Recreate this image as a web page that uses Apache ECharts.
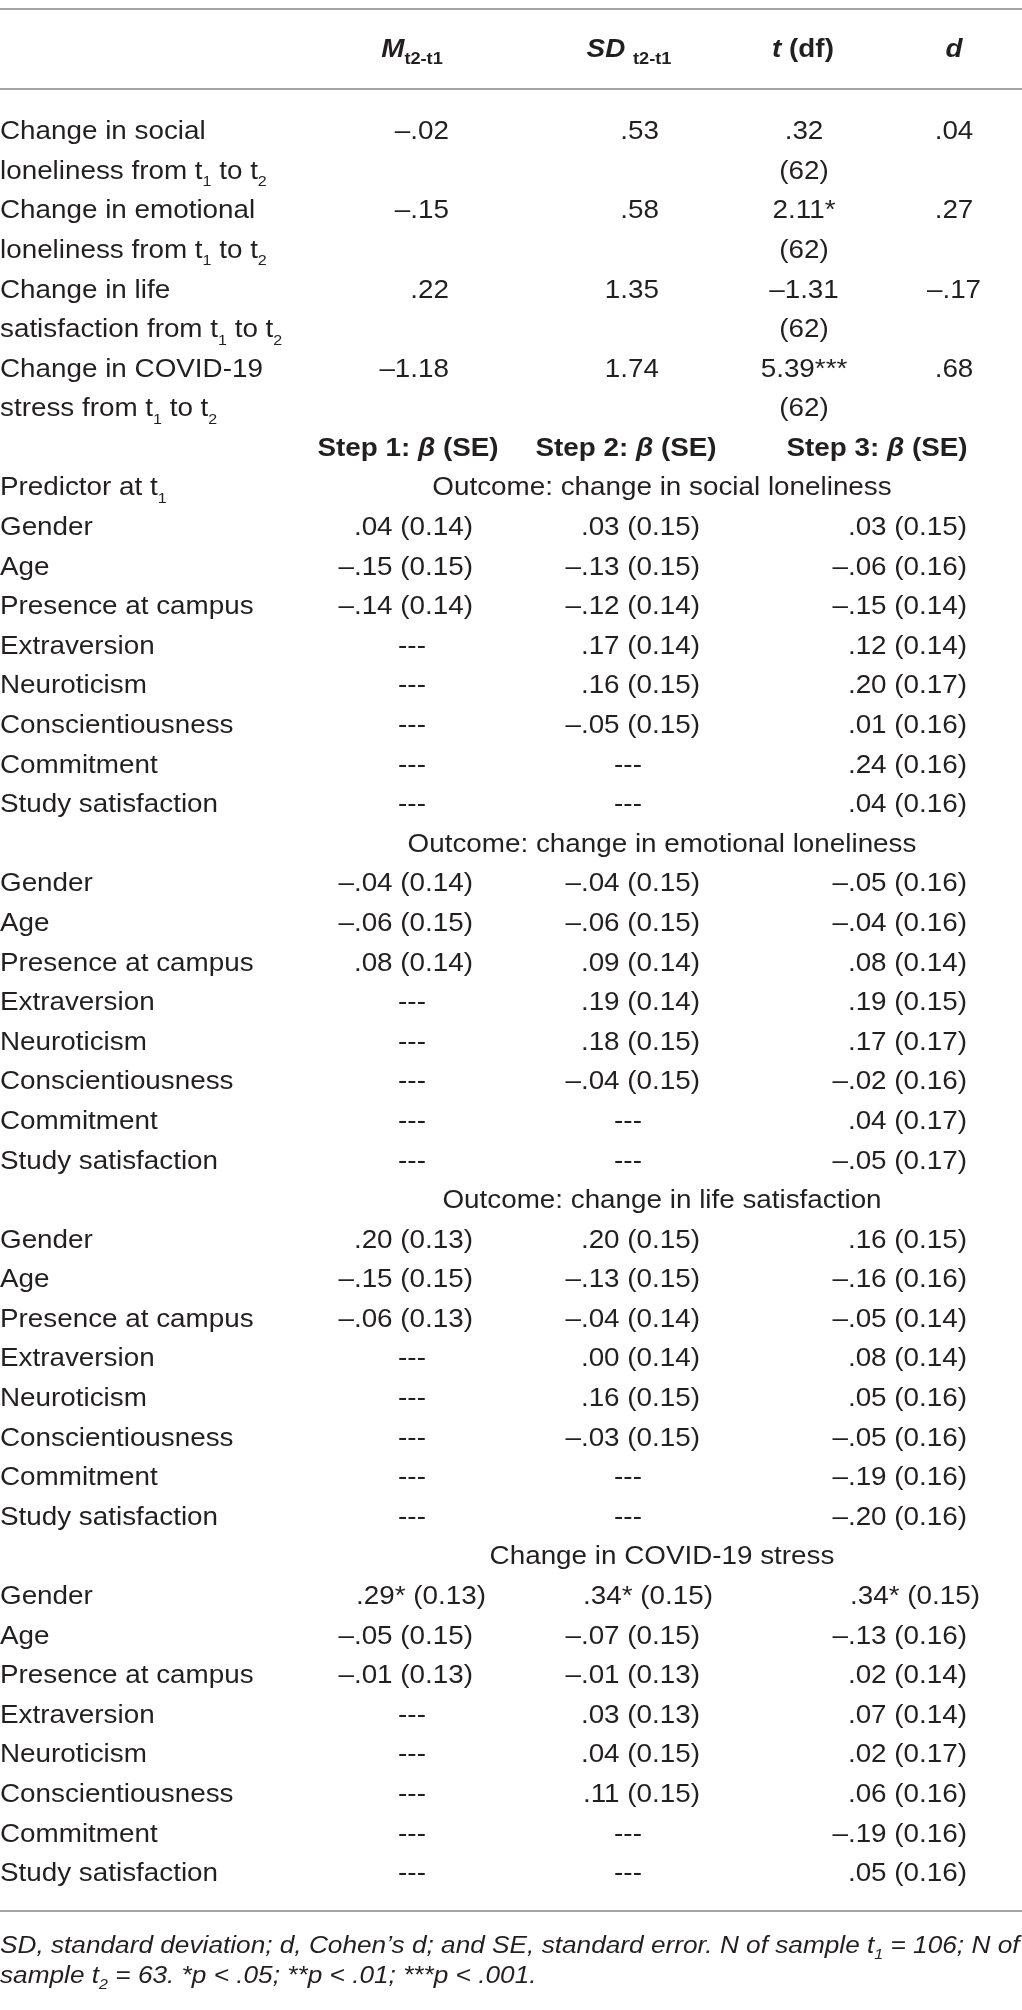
<!DOCTYPE html>
<html><head><meta charset="utf-8">
<script src="https://cdn.jsdelivr.net/npm/echarts/dist/echarts.min.js"></script>
<style>html,body{margin:0;padding:0;background:#fff}#c{width:1022px;height:2010px}</style>
</head><body><div id="c"></div>
<script>
// ---------- DATA ----------
const changeLabels = [
  ["Change in social", "loneliness from t₁ to t₂"],
  ["Change in emotional", "loneliness from t₁ to t₂"],
  ["Change in life", "satisfaction from t₁ to t₂"],
  ["Change in COVID-19", "stress from t₁ to t₂"]
];
const meanChange = ["–.02", "–.15", ".22", "–1.18"];
const sdChange   = [".53", ".58", "1.35", "1.74"];
const tValues    = [".32", "2.11*", "–1.31", "5.39***"];
const dfValues   = ["(62)", "(62)", "(62)", "(62)"];
const dValues    = [".04", ".27", "–.17", ".68"];

const statHeaders = [["M", "t2-t1"], ["SD", "t2-t1"], ["t", " (df)"], ["d", ""]];
const stepHeaders = [["Step 1: ", "β", " (SE)"], ["Step 2: ", "β", " (SE)"], ["Step 3: ", "β", " (SE)"]];
const predictorHeader = "Predictor at t₁";
const predictors = ["Gender", "Age", "Presence at campus", "Extraversion", "Neuroticism",
  "Conscientiousness", "Commitment", "Study satisfaction"];
const outcomes = ["Outcome: change in social loneliness", "Outcome: change in emotional loneliness",
  "Outcome: change in life satisfaction", "Change in COVID-19 stress"];

const step1 = [
  [".04 (0.14)", "–.15 (0.15)", "–.14 (0.14)", "---", "---", "---", "---", "---"],
  ["–.04 (0.14)", "–.06 (0.15)", ".08 (0.14)", "---", "---", "---", "---", "---"],
  [".20 (0.13)", "–.15 (0.15)", "–.06 (0.13)", "---", "---", "---", "---", "---"],
  [".29* (0.13)", "–.05 (0.15)", "–.01 (0.13)", "---", "---", "---", "---", "---"]
];
const step2 = [
  [".03 (0.15)", "–.13 (0.15)", "–.12 (0.14)", ".17 (0.14)", ".16 (0.15)", "–.05 (0.15)", "---", "---"],
  ["–.04 (0.15)", "–.06 (0.15)", ".09 (0.14)", ".19 (0.14)", ".18 (0.15)", "–.04 (0.15)", "---", "---"],
  [".20 (0.15)", "–.13 (0.15)", "–.04 (0.14)", ".00 (0.14)", ".16 (0.15)", "–.03 (0.15)", "---", "---"],
  [".34* (0.15)", "–.07 (0.15)", "–.01 (0.13)", ".03 (0.13)", ".04 (0.15)", ".11 (0.15)", "---", "---"]
];
const step3 = [
  [".03 (0.15)", "–.06 (0.16)", "–.15 (0.14)", ".12 (0.14)", ".20 (0.17)", ".01 (0.16)", ".24 (0.16)", ".04 (0.16)"],
  ["–.05 (0.16)", "–.04 (0.16)", ".08 (0.14)", ".19 (0.15)", ".17 (0.17)", "–.02 (0.16)", ".04 (0.17)", "–.05 (0.17)"],
  [".16 (0.15)", "–.16 (0.16)", "–.05 (0.14)", ".08 (0.14)", ".05 (0.16)", "–.05 (0.16)", "–.19 (0.16)", "–.20 (0.16)"],
  [".34* (0.15)", "–.13 (0.16)", ".02 (0.14)", ".07 (0.14)", ".02 (0.17)", ".06 (0.16)", "–.19 (0.16)", ".05 (0.16)"]
];
const footnote = [
  "SD, standard deviation; d, Cohen’s d; and SE, standard error. N of sample t₁ = 106; N of",
  "sample t₂ = 63. *p < .05; **p < .01; ***p < .001."
];

// ---------- LAYOUT / STYLE ----------
const W = 1022, H = 2010;
const FONT = "'Liberation Sans', Arial, Helvetica, sans-serif";
const INK = '#231f20';
const RULE = '#a3a3a3';
const SX = 1.07;
const ROW0 = 132, PITCH = 39.59, HEAD_Y = 50;
const rowY = i => ROW0 + i * PITCH;
const COL = {
  label: 0, mean: 449, sd: 659, t: 804, d: 954,
  stepR: [473, 700, 967], stepC: [412, 628, 877], stepH: [408, 626, 877], outcome: 662,
  head: [412, 629, 803, 954]
};
const STAR_SHIFT = 13;

function fs(size, weight, style, extra) {
  return Object.assign({fontFamily: FONT, fontSize: size, fontWeight: weight || 'normal',
    fontStyle: style || 'normal', fill: INK}, extra || {});
}
const RICH = {
  s:  fs(15, 'normal', 'normal', {lineHeight: 16, verticalAlign: 'bottom'}),
  b:  fs(26, 'bold', 'normal', {lineHeight: 36}),
  bi: fs(26, 'bold', 'italic', {lineHeight: 36}),
  bs: fs(17, 'bold', 'normal', {lineHeight: 22, verticalAlign: 'bottom'}),
  is: fs(15, 'normal', 'italic', {lineHeight: 16, verticalAlign: 'bottom'})
};
const KIND = {
  body: {size: 26, weight: 'normal', style: 'normal', lh: 36, sub: 's'},
  head: {size: 26, weight: 'bold', style: 'normal', lh: 36, sub: 'bs'},
  foot: {size: 24.5, weight: 'normal', style: 'italic', lh: 32, sub: 'is'}
};
function subify(text, subStyle) {
  return text.replace(/[\u2080-\u2089]/g, m => '{' + subStyle + '|' + String.fromCharCode(m.charCodeAt(0) - 0x2080 + 48) + '}');
}

// ---------- CELLS ----------
const cells = [];
function add(x, y, text, align, kind, raw) {
  const k = KIND[kind];
  cells.push({x, y, align, kind, text: raw ? text : subify(text, k.sub)});
}
// header
statHeaders.forEach((h, i) => {
  let t = '{bi|' + h[0] + '}';
  if (h[1]) t += (i === 2) ? '{b|' + h[1] + '}' : (i === 1 ? '{b| }' : '') + '{bs|' + h[1] + '}';
  add(COL.head[i], HEAD_Y, t, 'center', 'head', true);
});
// change rows
changeLabels.forEach((lab, k) => {
  const r = 2 * k;
  add(COL.label, rowY(r), lab[0], 'left', 'body');
  add(COL.label, rowY(r + 1), lab[1], 'left', 'body');
  add(COL.mean, rowY(r), meanChange[k], 'right', 'body');
  add(COL.sd, rowY(r), sdChange[k], 'right', 'body');
  add(COL.t, rowY(r), tValues[k], 'center', 'body');
  add(COL.t, rowY(r + 1), dfValues[k], 'center', 'body');
  add(COL.d, rowY(r), dValues[k], 'center', 'body');
});
// step headers
stepHeaders.forEach((h, i) => {
  add(COL.stepH[i], rowY(8), '{b|' + h[0] + '}{bi|' + h[1] + '}{b|' + h[2] + '}', 'center', 'head', true);
});
add(COL.label, rowY(9), predictorHeader, 'left', 'body');
const steps = [step1, step2, step3];
outcomes.forEach((o, b) => {
  const hr = 9 + b * 9;
  add(COL.outcome, rowY(hr), o, 'center', 'body');
  predictors.forEach((p, j) => {
    const y = rowY(hr + 1 + j);
    add(COL.label, y, p, 'left', 'body');
    steps.forEach((st, si) => {
      const v = st[b][j];
      if (v === '---') add(COL.stepC[si], y, v, 'center', 'body');
      else add(COL.stepR[si] + (v.indexOf('*') >= 0 ? STAR_SHIFT : 0), y, v, 'right', 'body');
    });
  });
});
// footnote
const FOOT_Y = [1946, 1976];
footnote.forEach((f, i) => add(0, FOOT_Y[i], f, 'left', 'foot'));

const rules = [9, 89, 1911];

// ---------- CHART ----------
const chart = echarts.init(document.getElementById('c'), null, {renderer: 'canvas', width: W, height: H});
chart.setOption({
  animation: false,
  backgroundColor: '#ffffff',
  grid: {left: 0, right: 0, top: 0, bottom: 0},
  xAxis: {type: 'value', min: 0, max: W, show: false},
  yAxis: {type: 'value', min: 0, max: H, inverse: true, show: false},
  series: [
    {
      type: 'custom', coordinateSystem: 'cartesian2d', silent: true,
      data: rules.map(y => [0, y]),
      renderItem: (params, api) => {
        const a = api.coord([0, api.value(1)]);
        const b = api.coord([W, api.value(1)]);
        return {type: 'line', shape: {x1: a[0], y1: a[1], x2: b[0], y2: b[1]},
          style: {stroke: RULE, lineWidth: 2}};
      }
    },
    {
      type: 'custom', coordinateSystem: 'cartesian2d', silent: true,
      data: cells.map((c, i) => [c.x, c.y, i]),
      renderItem: (params, api) => {
        const c = cells[api.value(2)];
        const p = api.coord([api.value(0), api.value(1)]);
        const k = KIND[c.kind];
        return {type: 'text', x: p[0], y: p[1], scaleX: SX,
          style: {text: c.text, x: 0, y: 0, align: c.align, verticalAlign: 'middle',
            fontFamily: FONT, fontSize: k.size, fontWeight: k.weight, fontStyle: k.style,
            fill: INK, lineHeight: k.lh, rich: RICH}};
      }
    }
  ]
});
</script></body></html>
